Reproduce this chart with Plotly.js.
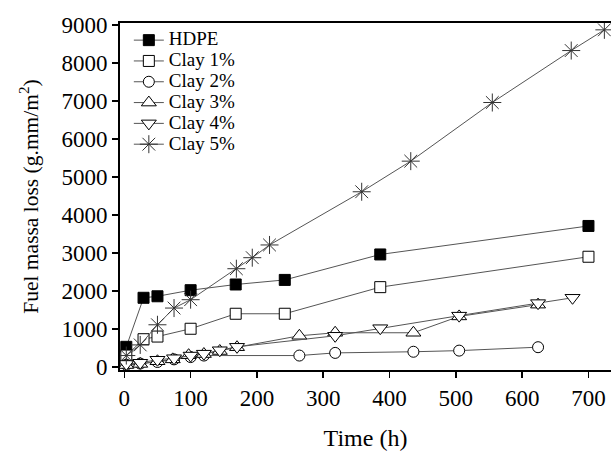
<!DOCTYPE html>
<html>
<head>
<meta charset="utf-8">
<script src="https://cdn.plot.ly/plotly-3.0.1.min.js"></script>
<style>html,body{margin:0;padding:0;background:#fff;}#chart{width:611px;height:459px;}</style>
</head>
<body>
<div id="chart"></div>
<script>
var seriesNames = ["HDPE", "Clay 1%", "Clay 2%", "Clay 3%", "Clay 4%", "Clay 5%"];

var hdpeT = [3, 29, 50, 100, 168, 242, 386, 700];
var hdpeV = [530, 1820, 1860, 2020, 2170, 2290, 2960, 3710];

var clay1T = [3, 29, 50, 100, 168, 242, 386, 700];
var clay1V = [300, 730, 800, 1005, 1400, 1400, 2100, 2900];

var clay2T = [3, 24, 50, 75, 100, 120, 264, 318, 436, 505, 624];
var clay2V = [60, 90, 130, 200, 260, 300, 300, 370, 400, 430, 520];

var clay3T = [3, 24, 50, 73, 97, 120, 144, 170, 264, 318, 436, 505, 624];
var clay3V = [50, 80, 150, 200, 310, 340, 420, 520, 820, 900, 900, 1330, 1640];

var clay4T = [3, 24, 50, 75, 100, 120, 144, 170, 318, 386, 505, 624, 676];
var clay4V = [80, 110, 190, 230, 300, 350, 440, 530, 820, 1020, 1350, 1680, 1820];

var clay5T = [3, 24, 50, 75, 100, 169, 193, 219, 358, 432, 555, 674, 724];
var clay5V = [300, 580, 1110, 1550, 1770, 2585, 2875, 3210, 4610, 5415, 6958, 8325, 8870];

var xTicks = [0, 100, 200, 300, 400, 500, 600, 700];
var yTicks = [0, 1000, 2000, 3000, 4000, 5000, 6000, 7000, 8000, 9000];

var fontFam = "'Liberation Serif', 'Times New Roman', serif";
var lineCol = "#555555";

function mk(name, x, y, symbol, size, mcolor, lcolor) {
  return {
    type: "scatter", mode: "lines+markers",
    name: '<span style="font-size:19px">' + name + '</span>', x: x, y: y,
    line: {color: lineCol, width: 1},
    marker: {symbol: symbol, size: size, color: mcolor, line: {color: lcolor, width: 1}}
  };
}

var data = [
  mk(seriesNames[0], hdpeT, hdpeV, "square", 11, "#000000", "#000000"),
  mk(seriesNames[1], clay1T, clay1V, "square", 11, "#ffffff", "#000000"),
  mk(seriesNames[2], clay2T, clay2V, "circle", 11, "#ffffff", "#000000"),
  mk(seriesNames[3], clay3T, clay3V, "triangle-up", 13, "#ffffff", "#000000"),
  mk(seriesNames[4], clay4T, clay4V, "triangle-down", 13, "#ffffff", "#000000"),
  mk(seriesNames[5], clay5T, clay5V, "asterisk-open", 15, "#333333", "#333333")
];

var layout = {
  width: 611, height: 459,
  margin: {l: 120, r: 0, t: 23, b: 89},
  paper_bgcolor: "#ffffff", plot_bgcolor: "#ffffff",
  font: {family: fontFam, size: 22, color: "#000000"},
  showlegend: true,
  legend: {x: 0.018, y: 0.995, xanchor: "left", yanchor: "top", bgcolor: "rgba(0,0,0,0)",
    font: {family: fontFam, size: 13.7, color: "#000"}, tracegroupgap: 0, itemsizing: "trace"},
  xaxis: {
    range: [-6.5, 734], tickvals: xTicks,
    ticks: "outside", ticklen: 6, tickwidth: 1.5, tickcolor: "#000",
    showline: true, linecolor: "#000", linewidth: 2, mirror: true,
    showgrid: false, zeroline: false,
    tickfont: {family: fontFam, size: 23},
    title: {text: "Time (h)", font: {family: fontFam, size: 24}, standoff: 20}
  },
  yaxis: {
    range: [-80, 9050], tickvals: yTicks,
    ticks: "outside", ticklen: 6, tickwidth: 1.5, tickcolor: "#000",
    showline: true, linecolor: "#000", linewidth: 2, mirror: false,
    showgrid: false, zeroline: false,
    tickfont: {family: fontFam, size: 23},
    title: {text: "Fuel massa loss (g.mm/m<sup>2</sup>)", font: {family: fontFam, size: 21.5}, standoff: 17}
  }
};

Plotly.newPlot("chart", data, layout, {displayModeBar: false, staticPlot: true});
</script>
</body>
</html>
